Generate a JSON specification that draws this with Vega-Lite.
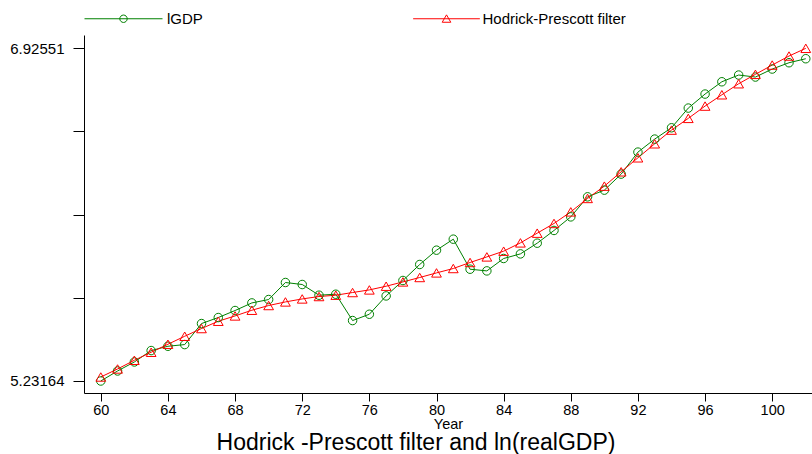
{
  "$schema": "https://vega.github.io/schema/vega-lite/v6.json",
  "width": 728,
  "height": 358,
  "autosize": {"type": "none"},
  "padding": {"left": 84, "top": 35, "right": 0, "bottom": 61},
  "background": "white",
  "config": {
    "font": "Liberation Sans",
    "view": {"stroke": null},
    "axis": {"grid": false, "domainColor": "black", "tickColor": "black", "labelColor": "black", "titleColor": "black", "domainWidth": 1, "tickWidth": 1}
  },
  "title": {
    "text": "Hodrick -Prescott filter and ln(realGDP)",
    "orient": "bottom",
    "anchor": "middle",
    "fontSize": 23,
    "fontWeight": "normal",
    "color": "black",
    "dx": -32,
    "offset": 1
  },
  "data": {
    "values": [
      {"year": 60, "series": "lGDP", "value": 5.23164},
      {"year": 61, "series": "lGDP", "value": 5.2826},
      {"year": 62, "series": "lGDP", "value": 5.3285},
      {"year": 63, "series": "lGDP", "value": 5.3866},
      {"year": 64, "series": "lGDP", "value": 5.4085},
      {"year": 65, "series": "lGDP", "value": 5.4171},
      {"year": 66, "series": "lGDP", "value": 5.5241},
      {"year": 67, "series": "lGDP", "value": 5.5547},
      {"year": 68, "series": "lGDP", "value": 5.5904},
      {"year": 69, "series": "lGDP", "value": 5.6291},
      {"year": 70, "series": "lGDP", "value": 5.6464},
      {"year": 71, "series": "lGDP", "value": 5.7331},
      {"year": 72, "series": "lGDP", "value": 5.7229},
      {"year": 73, "series": "lGDP", "value": 5.6684},
      {"year": 74, "series": "lGDP", "value": 5.6734},
      {"year": 75, "series": "lGDP", "value": 5.5394},
      {"year": 76, "series": "lGDP", "value": 5.5715},
      {"year": 77, "series": "lGDP", "value": 5.6648},
      {"year": 78, "series": "lGDP", "value": 5.7433},
      {"year": 79, "series": "lGDP", "value": 5.8248},
      {"year": 80, "series": "lGDP", "value": 5.8977},
      {"year": 81, "series": "lGDP", "value": 5.9537},
      {"year": 82, "series": "lGDP", "value": 5.8008},
      {"year": 83, "series": "lGDP", "value": 5.7922},
      {"year": 84, "series": "lGDP", "value": 5.8554},
      {"year": 85, "series": "lGDP", "value": 5.8788},
      {"year": 86, "series": "lGDP", "value": 5.9333},
      {"year": 87, "series": "lGDP", "value": 5.9981},
      {"year": 88, "series": "lGDP", "value": 6.0673},
      {"year": 89, "series": "lGDP", "value": 6.1693},
      {"year": 90, "series": "lGDP", "value": 6.2034},
      {"year": 91, "series": "lGDP", "value": 6.2850},
      {"year": 92, "series": "lGDP", "value": 6.3970},
      {"year": 93, "series": "lGDP", "value": 6.4633},
      {"year": 94, "series": "lGDP", "value": 6.5209},
      {"year": 95, "series": "lGDP", "value": 6.6212},
      {"year": 96, "series": "lGDP", "value": 6.6926},
      {"year": 97, "series": "lGDP", "value": 6.7552},
      {"year": 98, "series": "lGDP", "value": 6.7894},
      {"year": 99, "series": "lGDP", "value": 6.7792},
      {"year": 100, "series": "lGDP", "value": 6.8200},
      {"year": 101, "series": "lGDP", "value": 6.8521},
      {"year": 102, "series": "lGDP", "value": 6.8725},
      {"year": 60, "series": "Hodrick-Prescott filter", "value": 5.2520},
      {"year": 61, "series": "Hodrick-Prescott filter", "value": 5.2928},
      {"year": 62, "series": "Hodrick-Prescott filter", "value": 5.3371},
      {"year": 63, "series": "Hodrick-Prescott filter", "value": 5.3779},
      {"year": 64, "series": "Hodrick-Prescott filter", "value": 5.4187},
      {"year": 65, "series": "Hodrick-Prescott filter", "value": 5.4594},
      {"year": 66, "series": "Hodrick-Prescott filter", "value": 5.4987},
      {"year": 67, "series": "Hodrick-Prescott filter", "value": 5.5359},
      {"year": 68, "series": "Hodrick-Prescott filter", "value": 5.5629},
      {"year": 69, "series": "Hodrick-Prescott filter", "value": 5.5919},
      {"year": 70, "series": "Hodrick-Prescott filter", "value": 5.6159},
      {"year": 71, "series": "Hodrick-Prescott filter", "value": 5.6342},
      {"year": 72, "series": "Hodrick-Prescott filter", "value": 5.6495},
      {"year": 73, "series": "Hodrick-Prescott filter", "value": 5.6617},
      {"year": 74, "series": "Hodrick-Prescott filter", "value": 5.6684},
      {"year": 75, "series": "Hodrick-Prescott filter", "value": 5.6821},
      {"year": 76, "series": "Hodrick-Prescott filter", "value": 5.6954},
      {"year": 77, "series": "Hodrick-Prescott filter", "value": 5.7142},
      {"year": 78, "series": "Hodrick-Prescott filter", "value": 5.7361},
      {"year": 79, "series": "Hodrick-Prescott filter", "value": 5.7586},
      {"year": 80, "series": "Hodrick-Prescott filter", "value": 5.7820},
      {"year": 81, "series": "Hodrick-Prescott filter", "value": 5.8044},
      {"year": 82, "series": "Hodrick-Prescott filter", "value": 5.8350},
      {"year": 83, "series": "Hodrick-Prescott filter", "value": 5.8635},
      {"year": 84, "series": "Hodrick-Prescott filter", "value": 5.8926},
      {"year": 85, "series": "Hodrick-Prescott filter", "value": 5.9349},
      {"year": 86, "series": "Hodrick-Prescott filter", "value": 5.9843},
      {"year": 87, "series": "Hodrick-Prescott filter", "value": 6.0337},
      {"year": 88, "series": "Hodrick-Prescott filter", "value": 6.0928},
      {"year": 89, "series": "Hodrick-Prescott filter", "value": 6.1611},
      {"year": 90, "series": "Hodrick-Prescott filter", "value": 6.2238},
      {"year": 91, "series": "Hodrick-Prescott filter", "value": 6.2967},
      {"year": 92, "series": "Hodrick-Prescott filter", "value": 6.3680},
      {"year": 93, "series": "Hodrick-Prescott filter", "value": 6.4394},
      {"year": 94, "series": "Hodrick-Prescott filter", "value": 6.5091},
      {"year": 95, "series": "Hodrick-Prescott filter", "value": 6.5688},
      {"year": 96, "series": "Hodrick-Prescott filter", "value": 6.6314},
      {"year": 97, "series": "Hodrick-Prescott filter", "value": 6.6890},
      {"year": 98, "series": "Hodrick-Prescott filter", "value": 6.7451},
      {"year": 99, "series": "Hodrick-Prescott filter", "value": 6.7930},
      {"year": 100, "series": "Hodrick-Prescott filter", "value": 6.8403},
      {"year": 101, "series": "Hodrick-Prescott filter", "value": 6.8862},
      {"year": 102, "series": "Hodrick-Prescott filter", "value": 6.92551}
    ]
  },
  "encoding": {
    "x": {
      "field": "year",
      "type": "quantitative",
      "scale": {"domain": [59, 102.37], "nice": false, "zero": false},
      "axis": {
        "values": [60, 64, 68, 72, 76, 80, 84, 88, 92, 96, 100],
        "format": "d",
        "title": "Year",
        "titleFontSize": 14.5,
        "titleFontWeight": "normal",
        "titlePadding": 1,
        "labelFontSize": 14.5,
        "labelPadding": 2,
        "tickSize": 8,
        "labelFlush": false
      }
    },
    "y": {
      "field": "value",
      "type": "quantitative",
      "scale": {"domain": [5.1705, 6.9933], "nice": false, "zero": false},
      "axis": {
        "values": [5.23164, 5.6551075, 6.078575, 6.5020425, 6.92551],
        "labelExpr": "datum.value < 5.3 ? '5.23164' : (datum.value > 6.9 ? '6.92551' : '')",
        "title": null,
        "labelFontSize": 15,
        "labelPadding": 9,
        "tickSize": 11,
        "labelFlush": false
      }
    }
  },
  "layer": [
    {
      "mark": {"type": "line", "strokeWidth": 1},
      "encoding": {
        "color": {
          "field": "series",
          "type": "nominal",
          "scale": {"domain": ["lGDP", "Hodrick-Prescott filter"], "range": ["#008000", "#ff0000"]},
          "legend": {
            "title": null,
            "orient": "none",
            "legendX": 0,
            "legendY": -56,
            "direction": "horizontal",
            "padding": 0,
            "symbolType": "M-1,0L1,0",
            "symbolSize": 6084,
            "symbolStrokeWidth": 1,
            "labelFontSize": 15,
            "labelColor": "black",
            "labelOffset": 4,
            "columnPadding": 204,
            "encode": {
              "symbols": {
                "update": {
                  "shape": {"signal": "datum.value === 'lGDP' ? 'M-1,0L1,0M0.095,0A0.095,0.095,0,1,1,-0.095,0A0.095,0.095,0,1,1,0.095,0' : 'M-0.855,0L0.855,0M-0.11,0.09L0,-0.1L0.11,0.09Z'"},
                  "fill": {"value": "transparent"},
                  "strokeWidth": {"value": 1}
                }
              },
              "labels": {
                "update": {
                  "dx": {"signal": "datum.value === 'lGDP' ? 0 : -7.5"}
                }
              }
            }
          }
        }
      }
    },
    {
      "transform": [{"filter": "datum.series === 'lGDP'"}],
      "mark": {"type": "point", "shape": "circle", "filled": false, "strokeWidth": 1, "opacity": 1, "size": 72, "color": "#008000"}
    },
    {
      "transform": [{"filter": "datum.series !== 'lGDP'"}],
      "mark": {"type": "point", "shape": "triangle-up", "filled": false, "strokeWidth": 1, "opacity": 1, "size": 95, "color": "#ff0000"}
    }
  ]
}
